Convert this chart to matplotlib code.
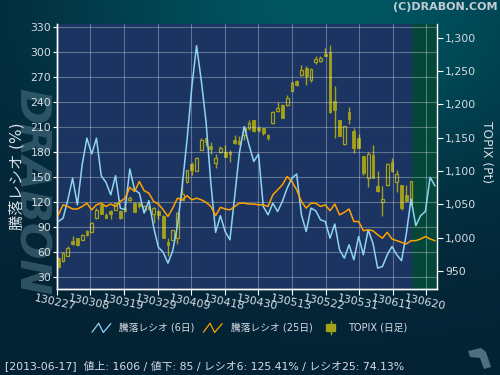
import numpy as np
import matplotlib
matplotlib.use("Agg")
import matplotlib.pyplot as plt
from matplotlib.lines import Line2D
from matplotlib.patches import Rectangle, Polygon
from matplotlib.legend_handler import HandlerBase

plt.rcParams['font.family'] = ['DejaVu Sans', 'Noto Sans CJK JP']

# tick labels (yymmdd), every 7 trading days
date_labels = ['130227', '130308', '130319', '130329', '130409', '130418',
               '130430', '130513', '130522', '130531', '130611', '130620']

# TOPIX daily candles, 2013-02-27 .. 2013-06-17
topix_open = [970, 965, 973, 995, 999, 997, 1010, 1009, 1029, 1049,
              1034, 1040, 1042, 1040, 1045, 1056, 1052, 1052, 1042, 1047,
              1035, 1040, 1032, 994, 997, 999, 1056, 1084, 1110, 1100,
              1132, 1149, 1137, 1112, 1128, 1129, 1129, 1146, 1145, 1154,
              1165, 1176, 1165, 1164, 1154, 1172, 1190, 1199, 1199, 1220,
              1235, 1244, 1255, 1236, 1263, 1265, 1276, 1278, 1205, 1176,
              1140, 1188, 1160, 1150, 1122, 1089, 1124, 1077, 1054, 1079,
              1114, 1084, 1079, 1064, 1051]
topix_high = [971, 978, 987, 1002, 1000, 1005, 1012, 1023, 1045, 1052,
              1037, 1042, 1054, 1041, 1047, 1062, 1054, 1054, 1049, 1049,
              1046, 1042, 1034, 999, 1012, 1039, 1090, 1102, 1114, 1121,
              1149, 1150, 1144, 1126, 1137, 1139, 1132, 1154, 1152, 1166,
              1176, 1177, 1167, 1165, 1156, 1190, 1204, 1201, 1214, 1235,
              1237, 1259, 1257, 1254, 1273, 1272, 1284, 1289, 1227, 1177,
              1168, 1196, 1165, 1156, 1122, 1129, 1139, 1100, 1077, 1112,
              1119, 1102, 1079, 1079, 1085]
topix_low = [954, 964, 972, 989, 988, 996, 1003, 1008, 1028, 1035,
             1029, 1028, 1041, 1028, 1039, 1055, 1038, 1045, 1040, 1042,
             1022, 1028, 999, 972, 996, 990, 1056, 1082, 1094, 1100,
             1131, 1137, 1126, 1104, 1127, 1121, 1114, 1141, 1139, 1147,
             1162, 1159, 1159, 1154, 1147, 1171, 1189, 1180, 1197, 1220,
             1228, 1243, 1229, 1234, 1260, 1263, 1272, 1187, 1149, 1152,
             1139, 1170, 1127, 1134, 1094, 1076, 1090, 1069, 1032, 1078,
             1099, 1069, 1041, 1054, 1049]
topix_close = [956, 977, 985, 990, 989, 1004, 1004, 1022, 1042, 1036,
               1030, 1036, 1052, 1029, 1040, 1060, 1039, 1047, 1047, 1043,
               1045, 1034, 1000, 989, 1011, 1037, 1066, 1101, 1101, 1120,
               1147, 1144, 1133, 1119, 1135, 1121, 1125, 1142, 1141, 1164,
               1172, 1160, 1161, 1157, 1150, 1189, 1194, 1180, 1210, 1232,
               1229, 1251, 1242, 1253, 1268, 1270, 1273, 1188, 1192, 1153,
               1167, 1178, 1134, 1135, 1097, 1125, 1090, 1070, 1058, 1111,
               1100, 1095, 1044, 1055, 1085]

# advance/decline ratio (%)
ratio6 = [97, 101, 123, 149, 117, 165, 197, 178, 197, 152,
          144, 129, 152, 113, 111, 160, 135, 131, 107, 122,
          90, 66, 60, 47, 62, 92, 140, 195, 258, 308,
          266, 216, 143, 84, 104, 85, 75, 127, 180, 211,
          189, 169, 178, 115, 105, 119, 109, 121, 137, 149,
          154, 105, 85, 113, 110, 99, 97, 77, 94, 63,
          53, 69, 51, 79, 57, 87, 71, 41, 43, 57,
          67, 57, 50, 82, 124, 92, 104, 109, 150, 140]
ratio25 = [105, 117, 115, 112, 112, 115, 119, 111, 117, 119,
           115, 118, 115, 121, 125, 138, 133, 145, 134, 131,
           121, 118, 111, 103, 113, 125, 123, 128, 123, 125,
           123, 120, 115, 104, 114, 112, 111, 115, 119, 119,
           118, 118, 117, 117, 115, 129, 135, 141, 151, 145,
           135, 121, 113, 119, 119, 115, 117, 110, 118, 105,
           108, 112, 97, 97, 86, 87, 86, 81, 77, 84,
           76, 74, 72, 70, 74, 74, 76, 79, 76, 74]

left_ticks = list(range(30, 331, 30))
right_ticks = [950, 1000, 1050, 1100, 1150, 1200, 1250, 1300]

BLUE = '#8fd4f2'
ORANGE = '#ffa200'
OLIVE = '#a3a11a'
NAVY = '#1c3461'
TXT = '#d6dce4'


class ZigzagHandler(HandlerBase):
    def create_artists(self, legend, orig_handle, xdescent, ydescent,
                       width, height, fontsize, trans):
        xs = np.array([0.0, 0.35, 0.6, 1.0]) * width - xdescent
        ys = np.array([0.05, 0.95, 0.0, 0.9]) * height * 1.3 - ydescent - 0.15 * height
        ln = Line2D(xs, ys, color=orig_handle.get_color(), lw=0.9)
        ln.set_transform(trans)
        return [ln]


class CandleHandler(HandlerBase):
    def create_artists(self, legend, orig_handle, xdescent, ydescent,
                       width, height, fontsize, trans):
        cx = width * 0.5 - xdescent
        wick = Line2D([cx, cx], [-ydescent - 0.35 * height, -ydescent + 1.35 * height],
                      color=OLIVE, lw=1)
        wick.set_transform(trans)
        body = Rectangle((cx - 0.22 * width, -ydescent), 0.44 * width, height,
                         facecolor=OLIVE, edgecolor=OLIVE, transform=trans)
        return [wick, body]


fig = plt.figure(figsize=(5, 3.75), dpi=100)

# background gradient
H, W = 375, 500
yy, xx = np.mgrid[0:H, 0:W]
f = np.exp(-((xx - 330) / 280.0) ** 2 - (yy / 190.0) ** 2)
dark = np.array([4, 34, 52]) / 255.0
light = np.array([0, 86, 98]) / 255.0
bg = dark + (light - dark) * f[..., None]
fig.figimage(bg, xo=0, yo=0, origin='upper', zorder=-10)

# logo watermark
fig.text(0.062, 0.49, 'DRABON', rotation=-90, fontsize=31, fontweight='bold',
         style='italic', color='#3f6676', alpha=0.7, ha='center', va='center', zorder=-5)

ax = fig.add_axes([56.7 / 500, 1 - 289 / 375, 380 / 500, 265 / 375])
ax2 = ax.twinx()
ax.set_zorder(2)
ax2.set_zorder(1)
ax.patch.set_visible(False)
ax2.patch.set_visible(True)
ax2.patch.set_facecolor(NAVY)

days = np.arange(len(ratio6))
cdays = np.arange(len(topix_close))
x_right = 79.38
ax.set_xlim(-0.34, x_right)
ax.set_ylim(16, 334)
ax2.set_ylim(923, 1320.6)

ax2.axvspan(74.26, x_right, color='#04473a', lw=0, zorder=0)

# candles
o = np.array(topix_open)
c = np.array(topix_close)
ax2.vlines(cdays, topix_low, topix_high, color=OLIVE, lw=1, zorder=2)
down = c < o
ax2.bar(cdays[down], (o - c)[down], bottom=c[down], width=0.58,
        color=OLIVE, edgecolor=OLIVE, lw=0.6, zorder=3)
ax2.bar(cdays[~down], (c - o)[~down], bottom=o[~down], width=0.58,
        facecolor=NAVY, edgecolor=OLIVE, lw=0.9, zorder=3)

ax.plot(days, ratio6, color=BLUE, lw=1.1, zorder=4)
ax.plot(days, ratio25, color=ORANGE, lw=1.1, zorder=5)

tick_pos = np.arange(len(date_labels)) * 7.05 - 0.34
ax.set_xticks(tick_pos)
ax.set_xticklabels(date_labels, rotation=-12, ha='center', va='top',
                   rotation_mode='anchor', fontsize=8, color=TXT)
ax.set_yticks(left_ticks)
ax.set_yticklabels([str(v) for v in left_ticks], fontsize=7.8, color=TXT)
ax2.set_yticks(right_ticks)
ax2.set_yticklabels([f'{v:,}' for v in right_ticks], fontsize=7.8, color=TXT)

ax.grid(True, color='white', alpha=0.3, lw=0.8)
ax.tick_params(axis='x', colors='white', length=4, width=0.8, pad=2, labelcolor=TXT)
ax.tick_params(axis='y', colors='white', length=3, width=0.8, pad=1, labelcolor=TXT)
ax2.tick_params(axis='y', colors='white', length=4, width=0.8, pad=2, labelcolor=TXT)
for a in (ax, ax2):
    a.spines['top'].set_visible(False)
    for s in ('left', 'right', 'bottom'):
        a.spines[s].set_color('white')
        a.spines[s].set_linewidth(1)
ax.spines['right'].set_visible(False)

fig.text(0.034, 1 - 176 / 375, '騰落レシオ (%)', rotation=90, fontsize=11,
         color=TXT, ha='center', va='center')
fig.text(0.972, 1 - 152 / 375, 'TOPIX (Pt)', rotation=-90, fontsize=8.8,
         color=TXT, ha='center', va='center')
fig.text(0.994, 0.98, '(C)DRABON.COM', ha='right', va='center', fontsize=8,
         fontweight='bold', color='#c4ccd4')

h1 = Line2D([], [], color=BLUE)
h2 = Line2D([], [], color=ORANGE)
h3 = Rectangle((0, 0), 1, 1)
fig.legend([h1, h2, h3], ['騰落レシオ (6日)', '騰落レシオ (25日)', 'TOPIX (日足)'],
           handler_map={h1: ZigzagHandler(), h2: ZigzagHandler(), h3: CandleHandler()},
           loc='center', bbox_to_anchor=(0.5, 1 - 328 / 375), ncol=3, frameon=False,
           fontsize=7, labelcolor=TXT, handlelength=1.9, handleheight=0.8,
           handletextpad=0.9, columnspacing=0.9)

fig.text(0.01, 1 - 366 / 375,
         '[2013-06-17]  値上: 1606 / 値下: 85 / レシオ6: 125.41% / レシオ25: 74.13%',
         fontsize=7.8, color=TXT, ha='left', va='center')

icon = [(468, 351), (481, 348), (486, 352), (491, 367), (484, 369), (480, 358), (470, 357)]
fig.patches.append(Polygon([(px / 500, 1 - py / 375) for px, py in icon], closed=True,
                           transform=fig.transFigure, facecolor='#4e6e84', edgecolor='none'))

fig.savefig('out.png', dpi=100)
